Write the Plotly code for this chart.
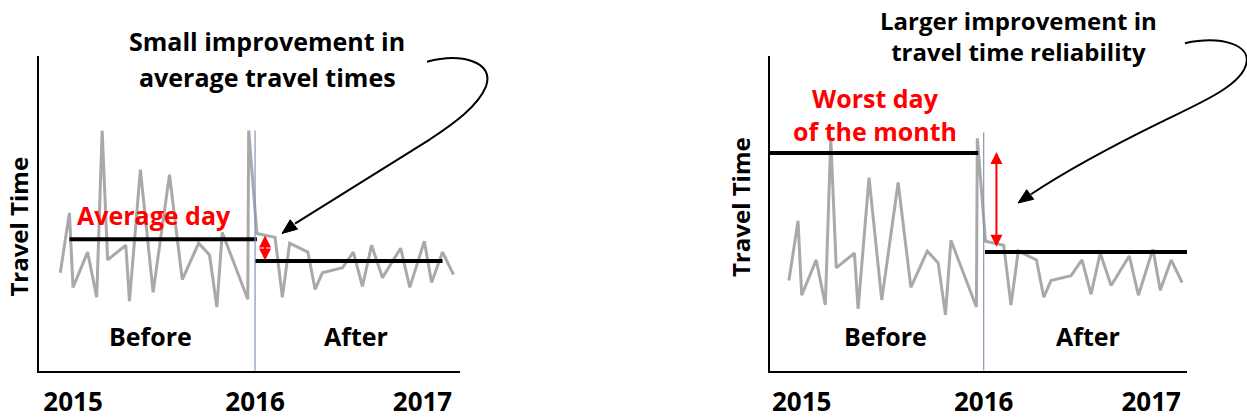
import plotly.graph_objects as go

W, H = 1247, 419

# ---------------- data ----------------
years = [2014.93, 2014.98, 2015.00, 2015.08, 2015.13, 2015.16, 2015.19, 2015.29, 2015.31,
         2015.37, 2015.44, 2015.53, 2015.60, 2015.69, 2015.75, 2015.79, 2015.82, 2015.96,
         2015.965, 2016.01, 2016.11, 2016.15, 2016.19, 2016.29, 2016.33, 2016.37, 2016.48,
         2016.54, 2016.59, 2016.64, 2016.70, 2016.80, 2016.85, 2016.93, 2016.97, 2017.03, 2017.09]
travel_time = [10.0, 16.1, 8.5, 12.1, 7.5, 24.5, 11.3, 12.8, 7.1, 20.5,
               8.0, 20.0, 9.3, 13.0, 11.8, 6.5, 14.1, 7.3, 24.5, 14.0,
               13.6, 7.5, 13.0, 12.1, 8.3, 10.0, 10.5, 12.1, 8.6, 12.8,
               9.5, 12.5, 8.5, 13.2, 9.0, 12.1, 9.8]

before_avg = 13.4
after_avg = 11.2
before_worst = 23.0
after_worst = 12.9

tick_pos = [2015.0, 2016.0, 2016.92]
tick_text = ["2015", "2016", "2017"]
change_year = 2016.0

# ---------------- styling / layout helpers ----------------
FONT = "Open Sans"
GRAY = "#a9a9a9"
SEP = "#8497b0"
RED = "#ff0000"


def px(x):
    return x / W


def py(y):
    return 1 - y / H


def ppath(points, cmds):
    parts = []
    i = 0
    for c in cmds:
        if c in ("M", "L"):
            x, y = points[i]
            parts.append(f"{c}{px(x):.5f},{py(y):.5f}")
            i += 1
        elif c == "C":
            seg = []
            for k in range(3):
                x, y = points[i + k]
                seg.append(f"{px(x):.5f},{py(y):.5f}")
            parts.append("C" + " ".join(seg))
            i += 3
    return " ".join(parts)


def head(tip, frm, length=15, half=6):
    tx, ty = tip
    fx_, fy_ = frm
    dx, dy = tx - fx_, ty - fy_
    n = (dx * dx + dy * dy) ** 0.5
    ux, uy = dx / n, dy / n
    bx, by = tx - ux * length, ty - uy * length
    nx, ny = -uy, ux
    pts = [(tx, ty), (bx + nx * half, by + ny * half), (bx - nx * half, by - ny * half)]
    return "M" + " L".join(f"{px(a):.5f},{py(b):.5f}" for a, b in pts) + " Z"


fig = go.Figure()

panels = [
    dict(xa="x", ya="y", xr=[2014.813, 2017.126], yr=[0, 32.1],
         before=(2014.98, 2016.01, before_avg), after=(2016.0, 2017.03, after_avg),
         sep_top=24.5, arrow_x=2016.055, arrow=(after_avg - 0.1, before_avg + 0.4)),
    dict(xa="x2", ya="y2", xr=[2014.826, 2017.117], yr=[0.8, 32.9],
         before=(2014.82, 2015.97, before_worst), after=(2016.007, 2017.16, after_worst),
         sep_top=25.1, arrow_x=2016.07, arrow=(after_worst + 0.4, before_worst + 0.1)),
]

shapes = []
annotations = []

for p in panels:
    fig.add_trace(go.Scatter(x=years, y=travel_time, mode="lines",
                             line=dict(color=GRAY, width=3),
                             xaxis=p["xa"], yaxis=p["ya"], showlegend=False, hoverinfo="skip"))
    for (x0, x1, v) in (p["before"], p["after"]):
        fig.add_trace(go.Scatter(x=[x0, x1], y=[v, v], mode="lines",
                                 line=dict(color="black", width=4),
                                 xaxis=p["xa"], yaxis=p["ya"], showlegend=False, hoverinfo="skip"))
    shapes.append(dict(type="line", xref=p["xa"], yref=p["ya"], x0=change_year, x1=change_year,
                       y0=p["yr"][0], y1=p["sep_top"], line=dict(color=SEP, width=1.2), layer="above"))
    lo, hi = p["arrow"]
    annotations.append(dict(xref=p["xa"], yref=p["ya"], axref=p["xa"], ayref=p["ya"],
                            x=p["arrow_x"], y=hi, ax=p["arrow_x"], ay=lo, text="",
                            showarrow=True, arrowside="end+start", arrowhead=2, startarrowhead=2,
                            arrowsize=1.2, startarrowsize=1.2, arrowwidth=2, arrowcolor=RED))


def label(text, x, y, size=25, color="black", angle=0):
    annotations.append(dict(xref="paper", yref="paper", x=px(x), y=py(y), text=f"<b>{text}</b>",
                            showarrow=False, xanchor="center", yanchor="middle", textangle=angle,
                            font=dict(family=FONT, size=size, color=color)))


# left panel texts
label("Small improvement in", 267, 42)
label("average travel times", 267, 78)
label("Average day", 154, 219, color=RED)
label("Travel Time", 19, 231, size=24, angle=-90)
label("Before", 150, 343)
label("After", 356, 343)
# right panel texts
label("Larger improvement in<br>travel time reliability", 1019, 37, size=24)
label("Worst day<br>of the month", 875, 117, size=25, color=RED)
label("Travel Time", 741, 211, size=24, angle=-90)
label("Before", 885, 343)
label("After", 1088, 343)

# curved callout arrows
left_curve = ppath([(427, 63), (460, 54), (495, 62), (486, 88), (478, 108), (455, 125), (430, 142), (295, 228)],
                   ["M", "C", "C", "L"])
right_curve = ppath([(1185, 44), (1222, 36), (1252, 46), (1246, 66), (1240, 88), (1200, 105), (1160, 125),
                     (1110, 150), (1065, 175), (1031, 198)],
                    ["M", "C", "C", "C"])
shapes.append(dict(type="path", xref="paper", yref="paper", path=left_curve,
                   line=dict(color="black", width=2)))
shapes.append(dict(type="path", xref="paper", yref="paper", path=right_curve,
                   line=dict(color="black", width=2)))
shapes.append(dict(type="path", xref="paper", yref="paper", path=head((282, 238), (295, 228)),
                   fillcolor="black", line=dict(color="black", width=1)))
shapes.append(dict(type="path", xref="paper", yref="paper", path=head((1018, 207), (1032, 197)),
                   fillcolor="black", line=dict(color="black", width=1)))

xcommon = dict(showline=True, linecolor="black", linewidth=2, showgrid=False, zeroline=False,
               tickvals=tick_pos, ticktext=[f"<b>{t}</b>" for t in tick_text], ticks="",
               tickfont=dict(family=FONT, size=26, color="black"), ticklabelstandoff=7,
               fixedrange=True)
ycommon = dict(showline=True, linecolor="black", linewidth=2, showgrid=False, zeroline=False,
               showticklabels=False, ticks="", fixedrange=True,
               domain=[py(378), py(57)])

fig.update_layout(
    width=W, height=H,
    margin=dict(l=0, r=0, t=0, b=0),
    paper_bgcolor="white", plot_bgcolor="white",
    xaxis=dict(domain=[px(39), px(460)], range=panels[0]["xr"], anchor="y", **xcommon),
    yaxis=dict(range=panels[0]["yr"], anchor="x", **ycommon),
    xaxis2=dict(domain=[px(770), px(1187)], range=panels[1]["xr"], anchor="y2", **xcommon),
    yaxis2=dict(range=panels[1]["yr"], anchor="x2", **ycommon),
    shapes=shapes,
    annotations=annotations,
    showlegend=False,
)

# remove the browser's default page margin so the figure sits at the window origin
fig.write_html("out.html", config={"displayModeBar": False},
               post_script="document.body.style.margin='0';document.body.style.overflow='hidden';")
